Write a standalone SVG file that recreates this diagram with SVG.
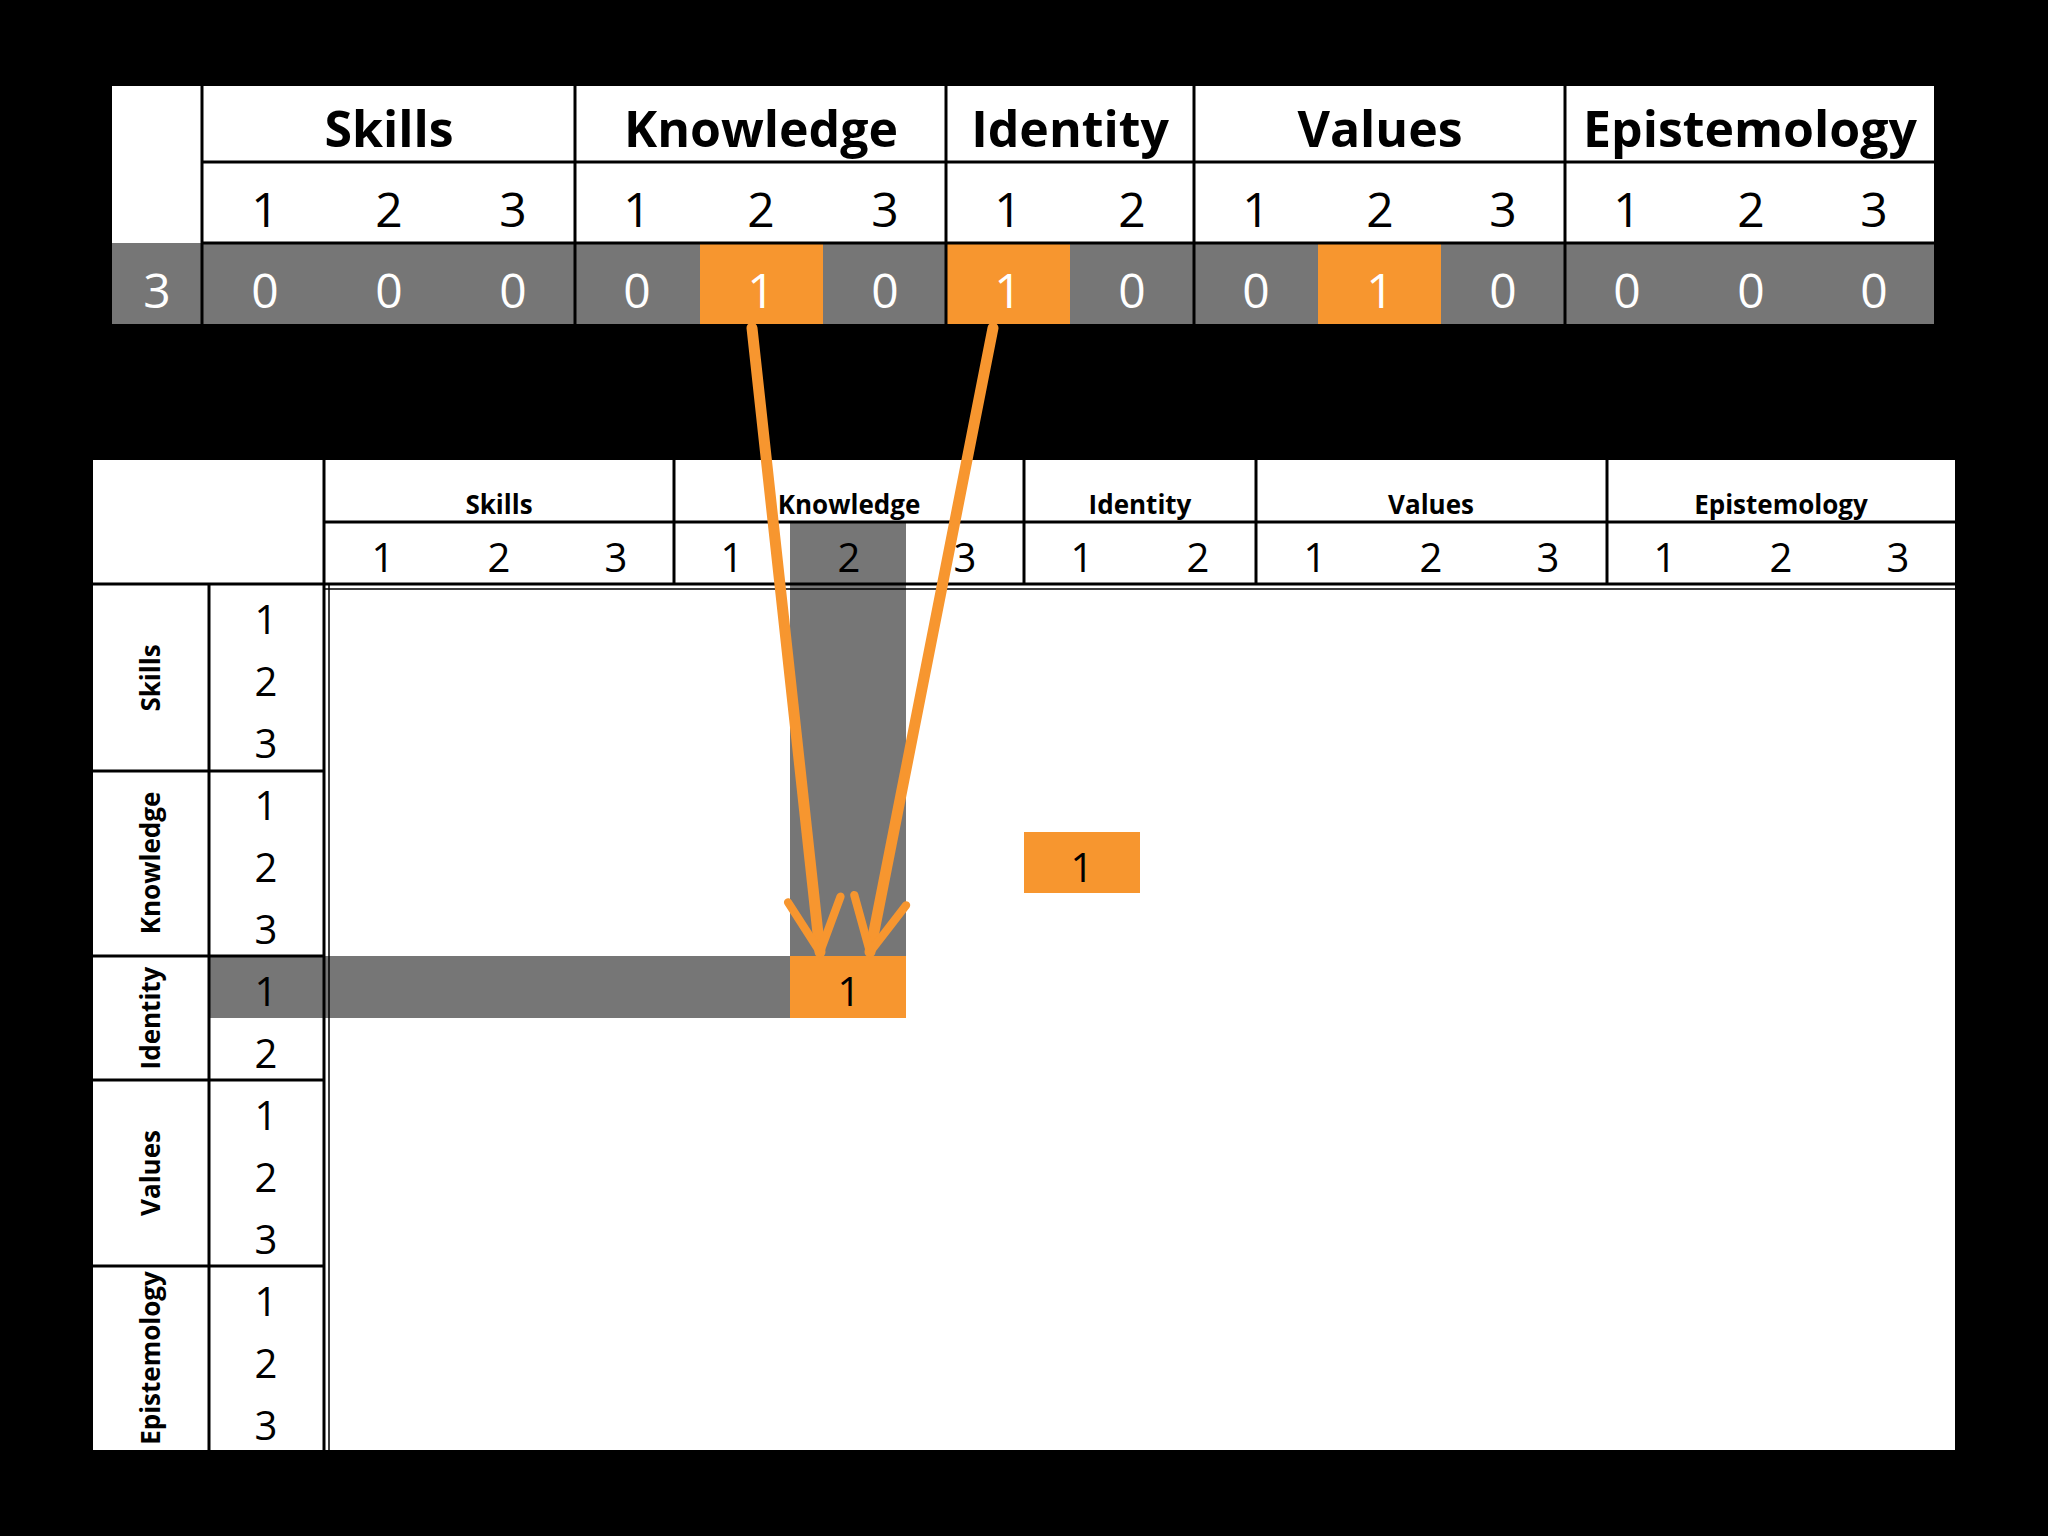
<svg xmlns="http://www.w3.org/2000/svg" width="2048" height="1536" viewBox="0 0 2048 1536">
<style>
.h{font-family:"Open Sans","Liberation Sans",sans-serif;font-weight:bold;fill:#000;text-anchor:middle}
.n{font-family:"Open Sans","Liberation Sans",sans-serif;fill:#000;text-anchor:middle}
.w{font-family:"Open Sans","Liberation Sans",sans-serif;fill:#fff;text-anchor:middle}
.ln{stroke:#000;stroke-width:3}
.arr{stroke:#F7962F;stroke-width:11;fill:none;stroke-linecap:round;stroke-linejoin:round}
</style>
<defs>
<marker id="ah" viewBox="0 0 20 20" refX="18" refY="10" markerWidth="6" markerHeight="6" orient="auto" markerUnits="strokeWidth">
<polyline points="2,2 18,10 2,18" fill="none" stroke="#F7962F" stroke-width="2.5" stroke-linecap="round" stroke-linejoin="round"/>
</marker>
</defs>
<rect width="2048" height="1536" fill="#000"/>
<g id="top-table">
<rect x="112" y="86" width="90" height="157" fill="#fff"/>
<rect x="202" y="86" width="1732" height="157" fill="#fff"/>
<rect x="112" y="243" width="1822" height="81" fill="#767676"/>
<rect x="700" y="243" width="123" height="81" fill="#F7962F"/>
<rect x="946" y="243" width="124" height="81" fill="#F7962F"/>
<rect x="1318" y="243" width="123" height="81" fill="#F7962F"/>
<g class="ln">
<line x1="202" y1="86" x2="202" y2="324"/><line x1="575" y1="86" x2="575" y2="324"/>
<line x1="946" y1="86" x2="946" y2="324"/><line x1="1194" y1="86" x2="1194" y2="324"/>
<line x1="1565" y1="86" x2="1565" y2="324"/>
<line x1="202" y1="162" x2="1934" y2="162"/><line x1="202" y1="243" x2="1934" y2="243"/>
</g>
<g class="h" font-size="50">
<text x="389" y="147">Skills</text><text x="761" y="147">Knowledge</text><text x="1070" y="147">Identity</text><text x="1380" y="147">Values</text><text x="1750" y="147">Epistemology</text>
</g>
<g class="n" font-size="48">
<text x="265" y="227">1</text><text x="389" y="227">2</text><text x="513" y="227">3</text>
<text x="637" y="227">1</text><text x="761" y="227">2</text><text x="885" y="227">3</text>
<text x="1008" y="227">1</text><text x="1132" y="227">2</text>
<text x="1256" y="227">1</text><text x="1380" y="227">2</text><text x="1503" y="227">3</text>
<text x="1627" y="227">1</text><text x="1751" y="227">2</text><text x="1874" y="227">3</text>
</g>
<g class="w" font-size="48">
<text x="157" y="308">3</text>
<text x="265" y="308">0</text><text x="389" y="308">0</text><text x="513" y="308">0</text>
<text x="637" y="308">0</text><text x="761" y="308">1</text><text x="885" y="308">0</text>
<text x="1008" y="308">1</text><text x="1132" y="308">0</text>
<text x="1256" y="308">0</text><text x="1380" y="308">1</text><text x="1503" y="308">0</text>
<text x="1627" y="308">0</text><text x="1751" y="308">0</text><text x="1874" y="308">0</text>
</g>
</g>
<g id="matrix">
<rect x="93" y="460" width="1862" height="990" fill="#fff"/>
<rect x="790" y="522" width="116" height="434" fill="#767676"/>
<rect x="209" y="956" width="581" height="62" fill="#767676"/>
<rect x="790" y="956" width="116" height="62" fill="#F7962F"/>
<rect x="1024" y="832" width="116" height="61" fill="#F7962F"/>
<rect x="93" y="460" width="231" height="124" fill="#fff"/>
<g class="ln">
<line x1="324" y1="460" x2="324" y2="1450"/><line x1="329" y1="584" x2="329" y2="1450" stroke-width="1.5"/>
<line x1="674" y1="460" x2="674" y2="584"/><line x1="1024" y1="460" x2="1024" y2="584"/>
<line x1="1256" y1="460" x2="1256" y2="584"/><line x1="1607" y1="460" x2="1607" y2="584"/>
<line x1="324" y1="522" x2="1955" y2="522"/>
<line x1="93" y1="584" x2="1955" y2="584"/><line x1="324" y1="589" x2="1955" y2="589" stroke-width="1.5"/>
<line x1="209" y1="584" x2="209" y2="1450"/>
<line x1="93" y1="771" x2="324" y2="771"/><line x1="93" y1="956" x2="324" y2="956"/>
<line x1="93" y1="1080" x2="324" y2="1080"/><line x1="93" y1="1266" x2="324" y2="1266"/>
</g>
<g class="h" font-size="26">
<text x="499" y="514">Skills</text><text x="849" y="514">Knowledge</text><text x="1140" y="514">Identity</text><text x="1431" y="514">Values</text><text x="1781" y="514">Epistemology</text>
</g>
<g class="h" font-size="26">
<text transform="translate(160,678) rotate(-90)">Skills</text>
<text transform="translate(160,863) rotate(-90)">Knowledge</text>
<text transform="translate(160,1018) rotate(-90)">Identity</text>
<text transform="translate(160,1173) rotate(-90)">Values</text>
<text transform="translate(160,1358) rotate(-90)">Epistemology</text>
</g>
<g class="n" font-size="40">
<text x="383" y="572">1</text><text x="499" y="572">2</text><text x="616" y="572">3</text>
<text x="732" y="572">1</text><text x="849" y="572">2</text><text x="965" y="572">3</text>
<text x="1082" y="572">1</text><text x="1198" y="572">2</text>
<text x="1315" y="572">1</text><text x="1431" y="572">2</text><text x="1548" y="572">3</text>
<text x="1665" y="572">1</text><text x="1781" y="572">2</text><text x="1898" y="572">3</text>
<text x="266" y="634">1</text><text x="266" y="696">2</text><text x="266" y="758">3</text>
<text x="266" y="820">1</text><text x="266" y="882">2</text><text x="266" y="944">3</text>
<text x="266" y="1006">1</text><text x="266" y="1068">2</text>
<text x="266" y="1130">1</text><text x="266" y="1192">2</text><text x="266" y="1254">3</text>
<text x="266" y="1316">1</text><text x="266" y="1378">2</text><text x="266" y="1440">3</text>
<text x="849" y="1006">1</text><text x="1082" y="882">1</text>
</g>
</g>
<g id="connectors">
<line class="arr" x1="752" y1="328" x2="820" y2="952" marker-end="url(#ah)"/>
<line class="arr" x1="993" y1="328" x2="870" y2="952" marker-end="url(#ah)"/>
</g>
</svg>
